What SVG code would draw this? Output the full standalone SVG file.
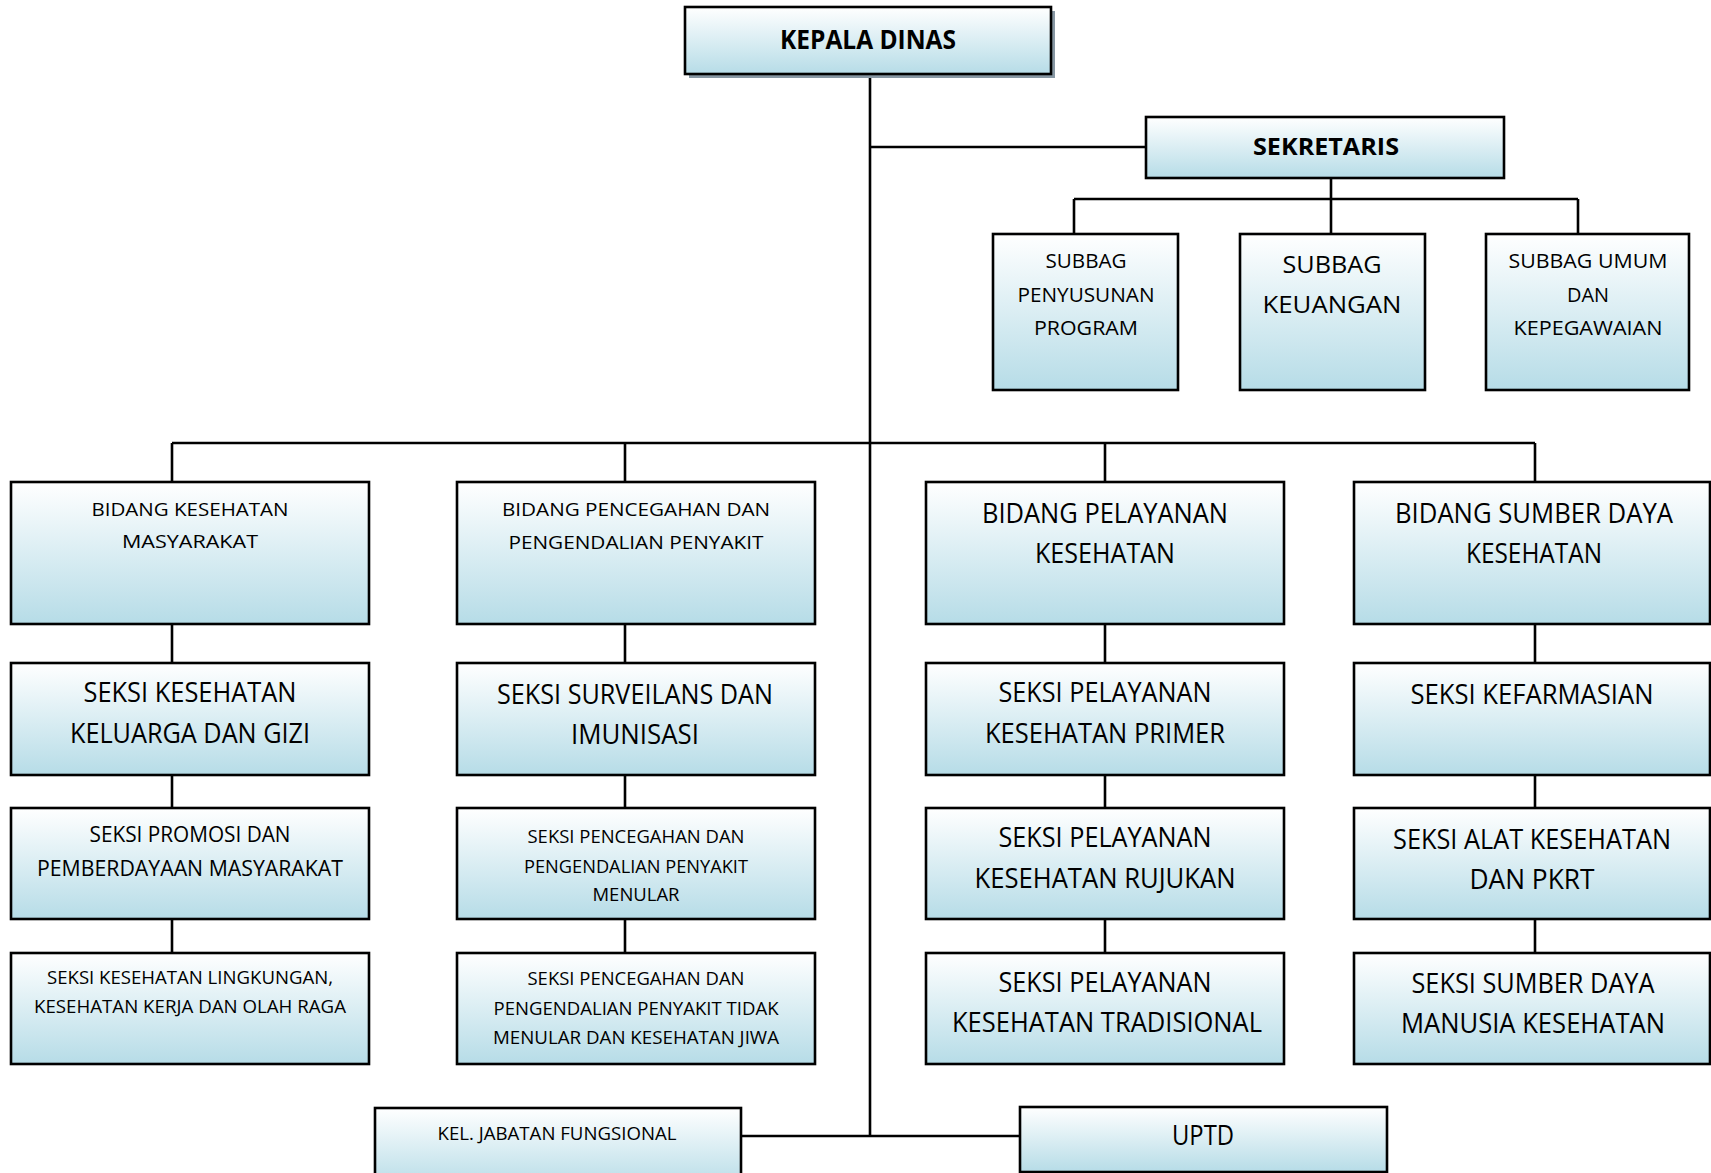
<svg xmlns="http://www.w3.org/2000/svg" width="1711" height="1173" viewBox="0 0 1711 1173">
<defs>
<linearGradient id="g" x1="0" y1="0" x2="0" y2="1">
<stop offset="0" stop-color="#ffffff"/>
<stop offset="1" stop-color="#b6dce7"/>
</linearGradient>
<style>
.box{fill:url(#g);stroke:#000;stroke-width:2.6}
.shadow{fill:#8797a3}
.ln{stroke:#000;stroke-width:2.6;fill:none}
text{font-family:"Open Sans","Noto Sans",sans-serif;fill:#000;text-anchor:middle}
.b{font-weight:bold}
.L{font-size:26.5px}
.M{font-size:21px}
.S{font-size:19px}
</style>
</defs>
<rect width="1711" height="1173" fill="#ffffff"/>
<g id="connectors">
<path class="ln" d="M870 74V1136M870 147H1146M1331 178V199M1074 199H1578M1074 199V234M1331 199V234M1578 199V234"/>
<path class="ln" d="M172 443H1535M172 443V482M625 443V482M1105 443V482M1535 443V482"/>
<path class="ln" d="M172 624V663M172 775V808M172 919V953M625 624V663M625 775V808M625 919V953M1105 624V663M1105 775V808M1105 919V953M1535 624V663M1535 775V808M1535 919V953"/>
<path class="ln" d="M741 1136H1020"/>
</g>
<g id="kepala-dinas">
<rect class="shadow" x="689" y="11" width="366" height="67"/>
<rect class="box" x="685" y="7" width="366" height="67"/>
<text class="b L" x="868" y="49" textLength="176" lengthAdjust="spacingAndGlyphs">KEPALA DINAS</text>
</g>
<g id="sekretaris">
<rect class="box" x="1146" y="117" width="358" height="61"/>
<text class="b" style="font-size:22.5px" x="1326" y="155" textLength="146" lengthAdjust="spacingAndGlyphs">SEKRETARIS</text>
</g>
<g id="subbag-program">
<rect class="box" x="993" y="234" width="185" height="156"/>
<text style="font-size:20px" x="1086" y="268" textLength="81" lengthAdjust="spacingAndGlyphs">SUBBAG</text>
<text style="font-size:20px" x="1086" y="302" textLength="137" lengthAdjust="spacingAndGlyphs">PENYUSUNAN</text>
<text style="font-size:20px" x="1086" y="335" textLength="104" lengthAdjust="spacingAndGlyphs">PROGRAM</text>
</g>
<g id="subbag-keuangan">
<rect class="box" x="1240" y="234" width="185" height="156"/>
<text style="font-size:23px" x="1332" y="273" textLength="99" lengthAdjust="spacingAndGlyphs">SUBBAG</text>
<text style="font-size:23px" x="1332" y="313" textLength="139" lengthAdjust="spacingAndGlyphs">KEUANGAN</text>
</g>
<g id="subbag-umum">
<rect class="box" x="1486" y="234" width="203" height="156"/>
<text style="font-size:20px" x="1588" y="268" textLength="159" lengthAdjust="spacingAndGlyphs">SUBBAG UMUM</text>
<text style="font-size:20px" x="1588" y="302" textLength="42" lengthAdjust="spacingAndGlyphs">DAN</text>
<text style="font-size:20px" x="1588" y="335" textLength="149" lengthAdjust="spacingAndGlyphs">KEPEGAWAIAN</text>
</g>
<g id="bidang-kesmas">
<rect class="box" x="11" y="482" width="358" height="142"/>
<text class="S" x="190" y="516" textLength="197" lengthAdjust="spacingAndGlyphs">BIDANG KESEHATAN</text>
<text class="S" x="190" y="548" textLength="136" lengthAdjust="spacingAndGlyphs">MASYARAKAT</text>
</g>
<g id="bidang-p2p">
<rect class="box" x="457" y="482" width="358" height="142"/>
<text class="S" x="636" y="516" textLength="268" lengthAdjust="spacingAndGlyphs">BIDANG PENCEGAHAN DAN</text>
<text class="S" x="636" y="549" textLength="255" lengthAdjust="spacingAndGlyphs">PENGENDALIAN PENYAKIT</text>
</g>
<g id="bidang-yankes">
<rect class="box" x="926" y="482" width="358" height="142"/>
<text class="L" x="1105" y="523" textLength="246" lengthAdjust="spacingAndGlyphs">BIDANG PELAYANAN</text>
<text class="L" x="1105" y="563" textLength="140" lengthAdjust="spacingAndGlyphs">KESEHATAN</text>
</g>
<g id="bidang-sdk">
<rect class="box" x="1354" y="482" width="356" height="142"/>
<text class="L" x="1534" y="523" textLength="278" lengthAdjust="spacingAndGlyphs">BIDANG SUMBER DAYA</text>
<text class="L" x="1534" y="563" textLength="136" lengthAdjust="spacingAndGlyphs">KESEHATAN</text>
</g>
<g id="seksi-kesga">
<rect class="box" x="11" y="663" width="358" height="112"/>
<text class="L" x="190" y="702" textLength="213" lengthAdjust="spacingAndGlyphs">SEKSI KESEHATAN</text>
<text class="L" x="190" y="743" textLength="240" lengthAdjust="spacingAndGlyphs">KELUARGA DAN GIZI</text>
</g>
<g id="seksi-surveilans">
<rect class="box" x="457" y="663" width="358" height="112"/>
<text class="L" x="635" y="704" textLength="276" lengthAdjust="spacingAndGlyphs">SEKSI SURVEILANS DAN</text>
<text class="L" x="635" y="744" textLength="128" lengthAdjust="spacingAndGlyphs">IMUNISASI</text>
</g>
<g id="seksi-primer">
<rect class="box" x="926" y="663" width="358" height="112"/>
<text class="L" x="1105" y="702" textLength="213" lengthAdjust="spacingAndGlyphs">SEKSI PELAYANAN</text>
<text class="L" x="1105" y="743" textLength="240" lengthAdjust="spacingAndGlyphs">KESEHATAN PRIMER</text>
</g>
<g id="seksi-farmasi">
<rect class="box" x="1354" y="663" width="356" height="112"/>
<text class="L" x="1532" y="704" textLength="243" lengthAdjust="spacingAndGlyphs">SEKSI KEFARMASIAN</text>
</g>
<g id="seksi-promosi">
<rect class="box" x="11" y="808" width="358" height="111"/>
<text class="M" x="190" y="842" textLength="201" lengthAdjust="spacingAndGlyphs">SEKSI PROMOSI DAN</text>
<text class="M" x="190" y="876" textLength="306" lengthAdjust="spacingAndGlyphs">PEMBERDAYAAN MASYARAKAT</text>
</g>
<g id="seksi-p2pm">
<rect class="box" x="457" y="808" width="358" height="111"/>
<text class="S" x="636" y="843" textLength="217" lengthAdjust="spacingAndGlyphs">SEKSI PENCEGAHAN DAN</text>
<text class="S" x="636" y="873" textLength="224" lengthAdjust="spacingAndGlyphs">PENGENDALIAN PENYAKIT</text>
<text class="S" x="636" y="901" textLength="87" lengthAdjust="spacingAndGlyphs">MENULAR</text>
</g>
<g id="seksi-rujukan">
<rect class="box" x="926" y="808" width="358" height="111"/>
<text class="L" x="1105" y="847" textLength="213" lengthAdjust="spacingAndGlyphs">SEKSI PELAYANAN</text>
<text class="L" x="1105" y="888" textLength="261" lengthAdjust="spacingAndGlyphs">KESEHATAN RUJUKAN</text>
</g>
<g id="seksi-alkes">
<rect class="box" x="1354" y="808" width="356" height="111"/>
<text class="L" x="1532" y="849" textLength="278" lengthAdjust="spacingAndGlyphs">SEKSI ALAT KESEHATAN</text>
<text class="L" x="1532" y="889" textLength="125" lengthAdjust="spacingAndGlyphs">DAN PKRT</text>
</g>
<g id="seksi-kesling">
<rect class="box" x="11" y="953" width="358" height="111"/>
<text class="S" x="190" y="984" textLength="286" lengthAdjust="spacingAndGlyphs">SEKSI KESEHATAN LINGKUNGAN,</text>
<text class="S" x="190" y="1013" textLength="312" lengthAdjust="spacingAndGlyphs">KESEHATAN KERJA DAN OLAH RAGA</text>
</g>
<g id="seksi-p2ptm">
<rect class="box" x="457" y="953" width="358" height="111"/>
<text class="S" x="636" y="985" textLength="217" lengthAdjust="spacingAndGlyphs">SEKSI PENCEGAHAN DAN</text>
<text class="S" x="636" y="1015" textLength="285" lengthAdjust="spacingAndGlyphs">PENGENDALIAN PENYAKIT TIDAK</text>
<text class="S" x="636" y="1044" textLength="286" lengthAdjust="spacingAndGlyphs">MENULAR DAN KESEHATAN JIWA</text>
</g>
<g id="seksi-tradisional">
<rect class="box" x="926" y="953" width="358" height="111"/>
<text class="L" x="1105" y="992" textLength="213" lengthAdjust="spacingAndGlyphs">SEKSI PELAYANAN</text>
<text class="L" x="1107" y="1032" textLength="310" lengthAdjust="spacingAndGlyphs">KESEHATAN TRADISIONAL</text>
</g>
<g id="seksi-sdmk">
<rect class="box" x="1354" y="953" width="356" height="111"/>
<text class="L" x="1533" y="993" textLength="243" lengthAdjust="spacingAndGlyphs">SEKSI SUMBER DAYA</text>
<text class="L" x="1533" y="1033" textLength="264" lengthAdjust="spacingAndGlyphs">MANUSIA KESEHATAN</text>
</g>
<g id="kel-jabatan-fungsional">
<rect class="box" x="375" y="1108" width="366" height="80"/>
<text class="S" x="557" y="1140" textLength="239" lengthAdjust="spacingAndGlyphs">KEL. JABATAN FUNGSIONAL</text>
</g>
<g id="uptd">
<rect class="box" x="1020" y="1107" width="367" height="65"/>
<text class="L" x="1203" y="1145" textLength="62" lengthAdjust="spacingAndGlyphs">UPTD</text>
</g>
</svg>
